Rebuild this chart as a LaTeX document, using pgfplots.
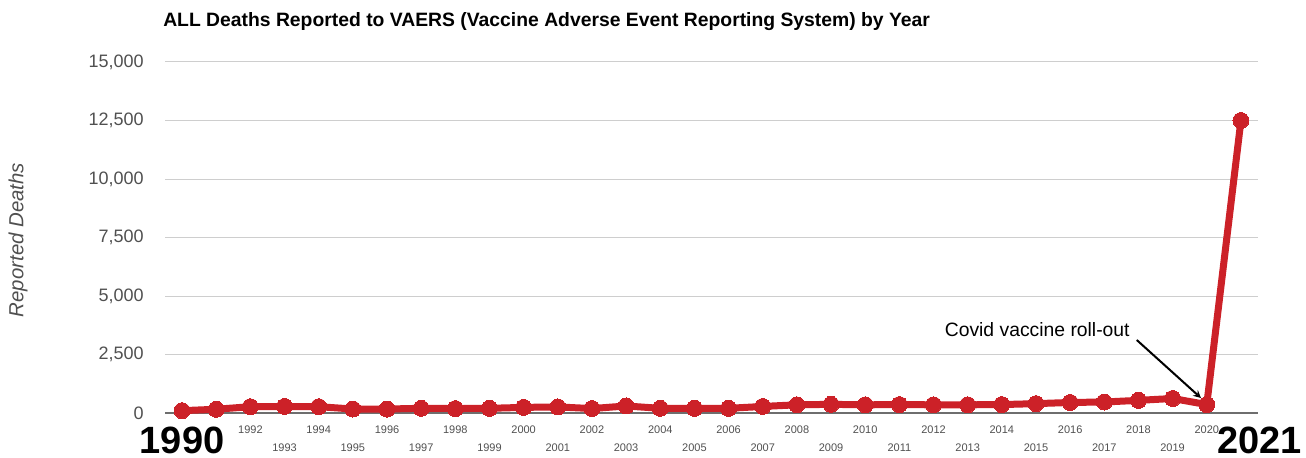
\documentclass[border=0pt]{standalone}
\usepackage{fontspec}
\setmainfont{Liberation Sans}
\usepackage{pgfplots}
\pgfplotsset{compat=1.18}
\definecolor{vred}{RGB}{204,33,40}
\definecolor{gridgray}{RGB}{206,206,206}
\definecolor{tickgray}{RGB}{80,80,80}
\definecolor{basegray}{RGB}{110,110,110}
\begin{document}
\begin{tikzpicture}
\path[use as bounding box] (0pt,0pt) rectangle (979.5pt,342.75pt);
\begin{axis}[
    at={(123.75pt,33pt)}, anchor=south west,
    scale only axis,
    width=819.75pt, height=263.25pt,
    xmin=1989.5, xmax=2021.5,
    ymin=0, ymax=15000,
    ytick={0,2500,...,15000},
    scaled y ticks=false,
    xtick={1992,1994,...,2020},
    extra x ticks={1993,1995,...,2019},
    extra x tick style={grid=none, xticklabel style={yshift=-13.5pt}},
    axis line style={draw=none},
    tick style={draw=none},
    ymajorgrids,
    grid style={gridgray, line width=0.75pt},
    /pgf/number format/assume math mode=true,
    xticklabel style={font=\fontsize{8.25}{9}\selectfont, text=tickgray, yshift=-6pt,
        /pgf/number format/1000 sep={}},
    yticklabel style={font=\fontsize{13.5}{15}\selectfont, text=tickgray, xshift=-12.5pt,
        /pgf/number format/1000 sep={,}},
    clip=false,
]
\draw[basegray, line width=1.2pt] (axis cs:1989.5,0) -- (axis cs:2021.5,0);

\addplot[vred, line width=5.25pt, line join=round, mark=*, mark size=6pt,
    mark options={fill=vred, draw=vred, line width=0pt}] coordinates {
    (1990, 100) (1991, 160) (1992, 270) (1993, 280) (1994, 270)
    (1995, 170) (1996, 170) (1997, 200) (1998, 190) (1999, 200)
    (2000, 240) (2001, 260) (2002, 190) (2003, 300) (2004, 200)
    (2005, 200) (2006, 200) (2007, 280) (2008, 350) (2009, 370)
    (2010, 350) (2011, 360) (2012, 350) (2013, 350) (2014, 360)
    (2015, 400) (2016, 450) (2017, 470) (2018, 540) (2019, 620)
    (2020, 360) (2021, 12500)
};

\node[font=\bfseries\fontsize{28.5}{30}\selectfont, anchor=north, inner sep=0pt, yshift=-10pt] at (axis cs:1990,0) {1990};
\node[font=\bfseries\fontsize{28.5}{30}\selectfont, anchor=north, inner sep=0pt, yshift=-10pt] at (axis cs:2021.55,0) {2021};

\node[font=\fontsize{14.5}{16}\selectfont, anchor=east, inner sep=0pt] at (axis cs:2017.75,3550) {Covid vaccine roll-out};
\draw[black, line width=1.5pt, -stealth] (axis cs:2017.95,3120) -- (axis cs:2019.83,641);
\end{axis}
\node[font=\bfseries\fontsize{14.5}{16}\selectfont, anchor=west, inner sep=0pt] at (122.25pt,326.25pt)
    {ALL Deaths Reported to VAERS (Vaccine Adverse Event Reporting System) by Year};
\node[font=\itshape\fontsize{15.3}{17}\selectfont, text=tickgray, rotate=90] at (13.5pt,162.75pt) {Reported Deaths};
\end{tikzpicture}
\end{document}
